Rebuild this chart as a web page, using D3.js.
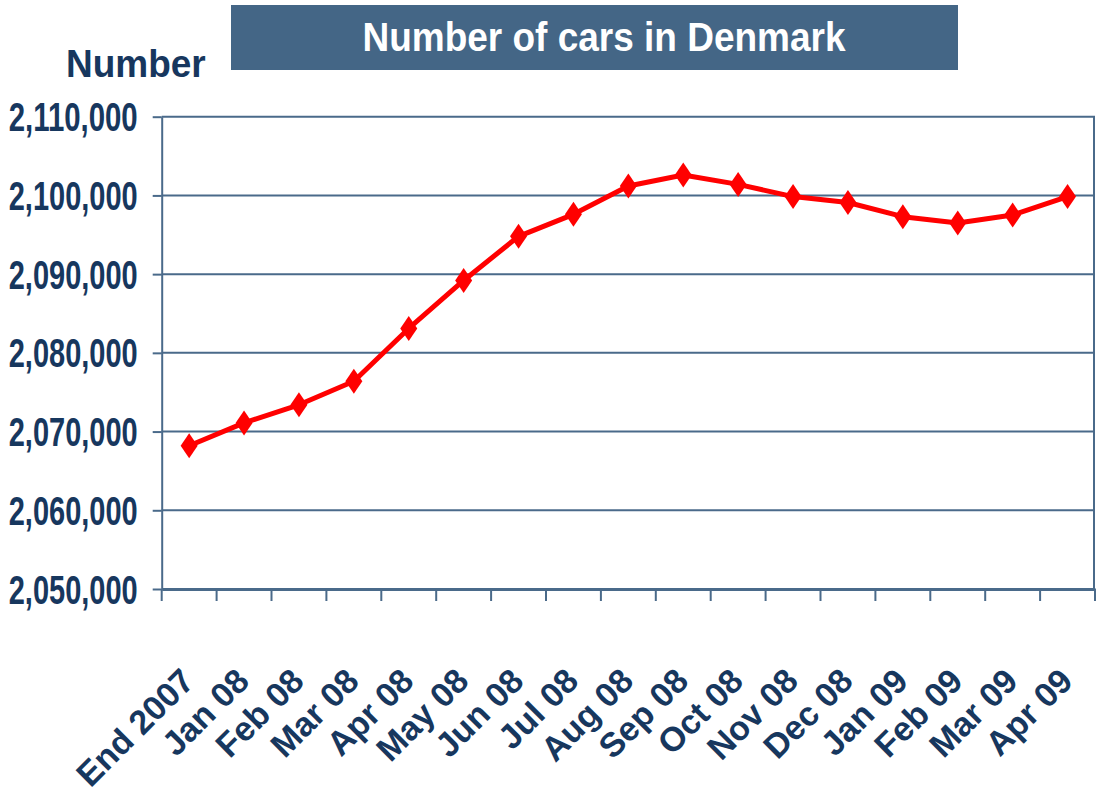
<!DOCTYPE html>
<html>
<head>
<meta charset="utf-8">
<script src="https://cdn.jsdelivr.net/npm/d3@7"></script>
<style>
  html, body { margin: 0; padding: 0; background: #fff; }
  svg { display: block; }
</style>
</head>
<body>
<svg id="chart" width="1096" height="793"></svg>
<script>
const categories = ["End 2007","Jan 08","Feb 08","Mar 08","Apr 08","May 08","Jun 08","Jul 08","Aug 08","Sep 08","Oct 08","Nov 08","Dec 08","Jan 09","Feb 09","Mar 09","Apr 09"];
const carCounts = [2068200,2071100,2073400,2076400,2083100,2089200,2094800,2097600,2101200,2102600,2101400,2099850,2099100,2097300,2096500,2097500,2099850];
const yTicks = [2050000,2060000,2070000,2080000,2090000,2100000,2110000];
const titleText = "Number of cars in Denmark";
const yAxisTitle = "Number";

const svg = d3.select("#chart");
const navy = "#17375E";
const gridCol = "#4A6A8A";

const plotLeft = 161.7, plotRight = 1095, plotTop = 116.7, plotBottom = 589;

const x = d3.scaleBand().domain(categories).range([plotLeft, plotRight]).padding(0);
const y = d3.scaleLinear().domain([2050000, 2110000]).range([plotBottom, plotTop]);

// title box
svg.append("rect").attr("x", 231).attr("y", 5).attr("width", 727).attr("height", 65).attr("fill", "#446686");
svg.append("text").attr("transform", "translate(604,51) scale(1,1.08)").attr("text-anchor", "middle")
  .attr("font-family", "Liberation Sans, Arial, sans-serif").attr("font-weight", "bold")
  .attr("font-size", 37).attr("fill", "#fff").text(titleText);

// y axis title
svg.append("text").attr("transform", "translate(66,77) scale(1,1.05)")
  .attr("font-family", "Liberation Sans, Arial, sans-serif").attr("font-weight", "bold")
  .attr("font-size", 37).attr("fill", navy).text(yAxisTitle);

// gridlines
svg.append("g").selectAll("line").data(yTicks.slice(1)).join("line")
  .attr("x1", plotLeft).attr("x2", plotRight).attr("y1", d => y(d)).attr("y2", d => y(d))
  .attr("stroke", gridCol).attr("stroke-width", 2);

// right border
svg.append("line").attr("x1", plotRight - 1).attr("x2", plotRight - 1).attr("y1", plotTop).attr("y2", plotBottom)
  .attr("stroke", gridCol).attr("stroke-width", 2);

// y axis
const yAxis = d3.axisLeft(y).tickValues(yTicks).tickSize(9).tickSizeOuter(0).tickFormat(d3.format(","));
const gy = svg.append("g").attr("transform", `translate(${plotLeft},0)`).call(yAxis);
gy.select(".domain").attr("stroke", gridCol).attr("stroke-width", 2);
gy.selectAll(".tick line").attr("stroke", gridCol).attr("stroke-width", 2);
gy.selectAll(".tick text")
  .attr("x", -24).attr("dy", null).attr("y", 14)
  .attr("font-family", "Liberation Sans Narrow, Arial Narrow, Liberation Sans, sans-serif")
  .attr("font-weight", "bold").attr("font-size", 40).attr("fill", navy)
  .attr("textLength", 129).attr("lengthAdjust", "spacingAndGlyphs");

// x axis
const xAxis = d3.axisBottom(x).tickSize(0).tickSizeOuter(0);
const gx = svg.append("g").attr("transform", `translate(0,${plotBottom})`).call(xAxis);
gx.select(".domain").attr("stroke", gridCol).attr("stroke-width", 3);
gx.selectAll(".tick text")
  .attr("text-anchor", "end").attr("x", 0).attr("y", 0).attr("dy", null)
  .attr("transform", "translate(7,94) rotate(-45)")
  .attr("font-family", "Liberation Sans, Arial, sans-serif")
  .attr("font-weight", "bold").attr("font-size", 34).attr("fill", navy);

// x tick marks at band boundaries
const bounds = categories.map(c => x(c)).concat([x(categories[categories.length - 1]) + x.bandwidth()]);
svg.append("g").selectAll("line").data(bounds).join("line")
  .attr("x1", d => d).attr("x2", d => d).attr("y1", plotBottom).attr("y2", plotBottom + 12)
  .attr("stroke", gridCol).attr("stroke-width", 2);

// line
const cx = c => x(c) + x.bandwidth() / 2;
const line = d3.line().x((d, i) => cx(categories[i])).y(d => y(d));
svg.append("path").datum(carCounts).attr("d", line)
  .attr("fill", "none").attr("stroke", "#FF0000").attr("stroke-width", 5).attr("stroke-linejoin", "round");

// diamond markers
svg.append("g").selectAll("path").data(carCounts).join("path")
  .attr("transform", (d, i) => `translate(${cx(categories[i])},${y(d)})`)
  .attr("d", "M0,-12.5L8.5,0L0,12.5L-8.5,0Z")
  .attr("fill", "#FF0000");
</script>
</body>
</html>
